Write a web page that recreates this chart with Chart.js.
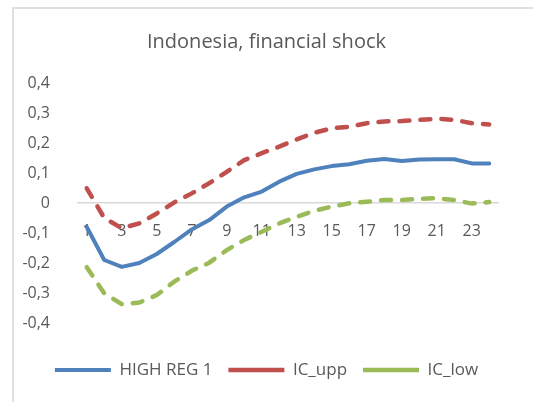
<!DOCTYPE html>
<html>
<head>
<meta charset="utf-8">
<script src="https://cdn.jsdelivr.net/npm/chart.js@4.4.0/dist/chart.umd.min.js"></script>
<style>
  body { margin: 0; background: #fff; }
  #wrap { position: relative; width: 533px; height: 402px; overflow: hidden; }
  #frame { position: absolute; left: 12px; top: 7px; width: 560px; height: 440px; border: 2px solid #e0e0e0; }
  canvas { position: absolute; left: 0; top: 0; }
</style>
</head>
<body>
<div id="wrap">
  <div id="frame"></div>
  <canvas id="myChart" width="533" height="402"></canvas>
</div>
<script>
// periods after the shock
var periods = ['1', '2', '3', '4', '5', '6', '7', '8', '9', '10', '11', '12',
  '13', '14', '15', '16', '17', '18', '19', '20', '21', '22', '23', '24'];

// impulse response + confidence band
var highReg = [-0.080, -0.190, -0.213, -0.200, -0.170, -0.130, -0.088, -0.057, -0.012, 0.019, 0.038, 0.071,
  0.097, 0.112, 0.123, 0.129, 0.141, 0.147, 0.140, 0.145, 0.146, 0.146, 0.132, 0.132];
var icUpp = [0.049, -0.050, -0.084, -0.068, -0.035, 0.002, 0.032, 0.066, 0.104, 0.143, 0.166, 0.188,
  0.212, 0.234, 0.249, 0.254, 0.266, 0.272, 0.273, 0.277, 0.281, 0.277, 0.266, 0.262];
var icLow = [-0.214, -0.301, -0.337, -0.332, -0.307, -0.262, -0.226, -0.199, -0.157, -0.123, -0.096, -0.068,
  -0.046, -0.026, -0.012, -0.001, 0.004, 0.010, 0.010, 0.014, 0.016, 0.010, -0.002, 0.003];

var yTicks = [-0.4, 0.4, 0.1]; // min, max, step

var textColor = '#595959';
Chart.defaults.font.family = "'Open Sans', sans-serif";
Chart.defaults.color = textColor;

var ctx = document.getElementById('myChart').getContext('2d');
var chart = new Chart(ctx, {
  type: 'line',
  data: {
    labels: periods,
    datasets: [{
      label: 'HIGH REG 1',
      data: highReg,
      borderColor: '#4f81bd',
      backgroundColor: '#4f81bd',
      borderWidth: 4,
      borderCapStyle: 'round',
      borderJoinStyle: 'round',
      pointRadius: 0,
      tension: 0
    }, {
      label: 'IC_upp',
      data: icUpp,
      borderColor: '#c0504d',
      backgroundColor: '#c0504d',
      borderWidth: 4.5,
      borderDash: [10, 11],
      borderCapStyle: 'round',
      pointRadius: 0,
      tension: 0
    }, {
      label: 'IC_low',
      data: icLow,
      borderColor: '#9bbb59',
      backgroundColor: '#9bbb59',
      borderWidth: 4.5,
      borderDash: [10, 11],
      borderCapStyle: 'round',
      pointRadius: 0,
      tension: 0
    }]
  },
  options: {
    responsive: false,
    animation: false,
    layout: { padding: { left: 0, right: 0, top: 0, bottom: 13.5 } },
    plugins: {
      title: {
        display: true,
        text: 'Indonesia, financial shock',
        color: textColor,
        font: { size: 20, weight: 'normal' },
        padding: { top: 30, bottom: 29 }
      },
      legend: {
        position: 'bottom',
        title: { display: true, text: '', font: { size: 10 }, padding: { top: 0, bottom: 10.5 } },
        labels: {
          usePointStyle: true,
          pointStyle: 'line',
          pointStyleWidth: 56,
          padding: 16,
          color: textColor,
          font: { size: 17 }
        }
      },
      tooltip: { enabled: false }
    },
    scales: {
      x: {
        type: 'category',
        position: { y: 0 },
        offset: true,
        grid: { display: false, drawTicks: false },
        border: { display: true, color: '#d9d9d9', width: 1.5 },
        ticks: {
          autoSkip: false,
          maxRotation: 0,
          padding: 19,
          color: textColor,
          font: { size: 16 },
          callback: function (v, i) { return i % 2 === 0 ? periods[i] : ''; }
        }
      },
      y: {
        min: yTicks[0],
        max: yTicks[1],
        grid: { display: false },
        border: { display: false },
        ticks: {
          stepSize: yTicks[2],
          padding: 20,
          color: textColor,
          font: { size: 16 },
          callback: function (v) {
            if (Math.abs(v) < 1e-9) return '0';
            return v.toFixed(1).replace('.', ',');
          }
        },
        afterFit: function (scale) { scale.width = 78; }
      },
      yRight: {
        type: 'linear',
        position: 'right',
        grid: { display: false },
        border: { display: false },
        ticks: { display: false },
        afterFit: function (scale) { scale.width = 35; }
      }
    }
  }
});
</script>
</body>
</html>
